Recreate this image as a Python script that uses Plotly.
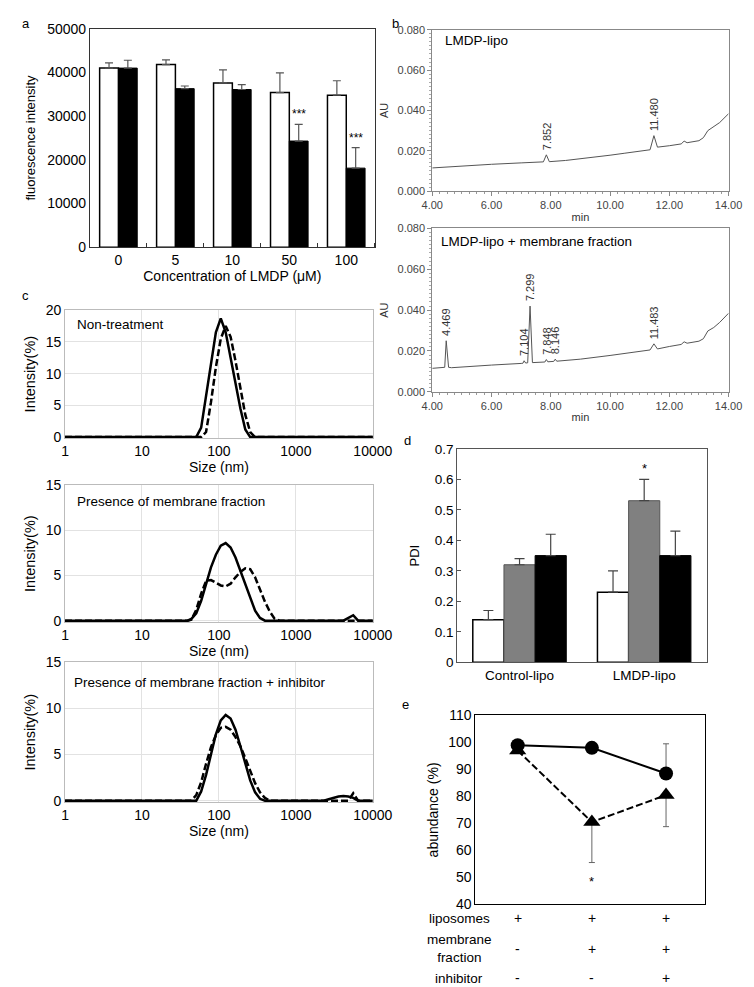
import plotly.graph_objects as go

W, H = 754, 987
FONT = "Liberation Sans, Arial, sans-serif"

# ---------------- data ----------------
# panel a
conc_labels = ["0", "5", "10", "50", "100"]
a_white = [41000, 41800, 37600, 35400, 34800]
a_white_err = [1200, 1100, 3000, 4500, 3300]
a_black = [41000, 36300, 36100, 24300, 18100]
a_black_err = [1800, 600, 1100, 3800, 4700]
a_sig = ["", "", "", "***", "***"]

# panel b (chromatograms)
b1_time = [4.0, 5.0, 6.0, 7.0, 7.75, 7.85, 7.95, 8.5, 9.0, 10.0, 10.5, 11.0, 11.35, 11.48, 11.6,
           12.0, 12.4, 12.5, 12.6, 13.0, 13.15, 13.3, 13.5, 13.7, 14.0]
b1_au = [0.0115, 0.0125, 0.0133, 0.0140, 0.0145, 0.0180, 0.0146, 0.0152, 0.0160, 0.0178, 0.0188,
         0.0197, 0.0205, 0.0275, 0.0218, 0.0225, 0.0234, 0.0248, 0.0240, 0.0250, 0.0265, 0.0300,
         0.0318, 0.0340, 0.0384]
b1_peak_labels = ["7.852", "11.480"]
b1_peak_au = [0.0180, 0.0275]

b2_time = [4.0, 4.35, 4.42, 4.47, 4.55, 4.65, 5.0, 6.0, 7.0, 7.06, 7.1, 7.15, 7.22, 7.3, 7.38, 7.5,
           7.8, 7.85, 7.9, 8.1, 8.15, 8.2, 9.0, 10.0, 11.0, 11.35, 11.48, 11.6, 12.0, 12.4, 12.5,
           12.6, 13.0, 13.15, 13.3, 13.5, 13.7, 14.0]
b2_au = [0.0115, 0.0117, 0.0120, 0.0250, 0.0120, 0.0118, 0.0122, 0.0131, 0.0139, 0.0140, 0.0152,
         0.0141, 0.0142, 0.0420, 0.0143, 0.0144, 0.0146, 0.0158, 0.0147, 0.0149, 0.0160, 0.0150,
         0.0160, 0.0178, 0.0196, 0.0205, 0.0235, 0.0210, 0.0222, 0.0232, 0.0245, 0.0238, 0.0248,
         0.0260, 0.0298, 0.0315, 0.0340, 0.0385]
b2_peak_labels = ["4.469", "7.104", "7.299", "7.848", "8.146", "11.483"]
b2_peak_au = [0.0250, 0.0152, 0.0420, 0.0158, 0.0160, 0.0235]

# panel c (size distributions)
c_ticks = [1, 10, 100, 1000, 10000]
c1_solid_size = [1, 50.75, 58.77, 68.06, 78.82, 91.28, 105.7, 122.4, 141.8, 164.2, 190.1, 220.2, 255.0, 10000]
c1_solid_int = [0, 0, 1.5, 6.5, 11.5, 16.5, 18.7, 16.5, 12.5, 8.5, 4.5, 1.2, 0, 0]
c1_dash_size = [1, 58.77, 68.06, 78.82, 91.28, 105.7, 122.4, 141.8, 164.2, 190.1, 220.2, 255.0, 295.3, 10000]
c1_dash_int = [0, 0, 0.8, 5.5, 11.0, 15.5, 17.5, 15.8, 12.0, 7.5, 3.5, 0.8, 0, 0]

c2_solid_size = [1, 39.0, 43.82, 50.75, 58.77, 68.06, 78.82, 91.28, 105.7, 122.4, 141.8, 164.2, 190.1,
                 220.2, 255.0, 295.3, 342.0, 396.1, 4145, 4801, 5560, 6439, 10000]
c2_solid_int = [0, 0, 0.2, 0.8, 2.2, 4.2, 5.9, 7.3, 8.3, 8.6, 8.1, 7.0, 5.5, 3.9, 2.4, 1.1, 0.3, 0,
                0, 0.3, 0.6, 0, 0]
c2_dash_size = [1, 39.0, 43.82, 50.75, 58.77, 68.06, 78.82, 91.28, 105.7, 122.4, 141.8, 164.2, 190.1,
                220.2, 255.0, 295.3, 342.0, 396.1, 458.7, 531.2, 615.1, 10000]
c2_dash_int = [0, 0, 0.1, 1.2, 3.0, 4.4, 4.5, 4.2, 3.9, 3.8, 4.1, 4.8, 5.4, 5.8, 5.7, 4.8, 3.4, 2.1,
               1.0, 0.2, 0, 0]

c3_solid_size = [1, 50.75, 58.77, 68.06, 78.82, 91.28, 105.7, 122.4, 141.8, 164.2, 190.1, 220.2, 255.0,
                 295.3, 342.0, 396.1, 2305, 2669, 3091, 3580, 4145, 4801, 5560, 6439, 10000]
c3_solid_int = [0, 0, 1.0, 2.8, 5.0, 7.2, 8.7, 9.3, 8.9, 7.7, 5.9, 4.0, 2.2, 0.9, 0.2, 0,
                0, 0.15, 0.3, 0.45, 0.5, 0.45, 0.3, 0, 0]
c3_dash_size = [1, 43.82, 50.75, 58.77, 68.06, 78.82, 91.28, 105.7, 122.4, 141.8, 164.2, 190.1, 220.2,
                255.0, 295.3, 342.0, 396.1, 458.7, 4801, 5560, 6439, 10000]
c3_dash_int = [0, 0, 0.6, 2.0, 4.0, 5.8, 7.1, 7.9, 8.0, 7.7, 6.9, 5.9, 4.6, 3.2, 1.9, 0.9, 0.3, 0,
               0, 0.8, 0, 0]

# panel d
d_cats = ["Control-lipo", "LMDP-lipo"]
d_white = [0.14, 0.23]
d_white_err = [0.03, 0.07]
d_gray = [0.32, 0.53]
d_gray_err = [0.02, 0.07]
d_black = [0.35, 0.35]
d_black_err = [0.07, 0.08]
d_sig = ["", "*"]

# panel e
e_cond = [1, 2, 3]
e_circle = [99, 98, 88.5]
e_circle_err_up = [0, 0, 11]
e_tri = [97, 70.5, 80.5]
e_tri_err_down = [0, 15, 11.7]
e_sig = ["", "*", ""]
e_rows = ["liposomes", "membrane<br>fraction", "inhibitor"]
e_liposomes = ["+", "+", "+"]
e_membrane = ["-", "+", "+"]
e_inhibitor = ["-", "-", "+"]


# ---------------- helpers ----------------
def dx(l, r):
    return [l / W, r / W]


def dy(t, b):
    return [1 - b / H, 1 - t / H]


def px(x):
    return x / W


def py(y):
    return 1 - y / H


fig = go.Figure()
ann = []

# ---------------- panel a ----------------
a_idx = list(range(len(conc_labels)))
fig.add_trace(go.Bar(x=a_idx, y=a_white, width=0.33, offset=-0.33, xaxis="x", yaxis="y",
                     marker=dict(color="white", line=dict(color="black", width=1.5)),
                     error_y=dict(type="data", array=a_white_err, arrayminus=[0] * 5, symmetric=False,
                                  color="#555", thickness=1.2, width=4)))
fig.add_trace(go.Bar(x=a_idx, y=a_black, width=0.33, offset=0.0, xaxis="x", yaxis="y",
                     marker=dict(color="black", line=dict(color="black", width=1.0)),
                     error_y=dict(type="data", array=a_black_err, arrayminus=[0] * 5, symmetric=False,
                                  color="#555", thickness=1.2, width=4)))
for i, s in enumerate(a_sig):
    if s:
        ann.append(dict(x=i + 0.165, y=a_black[i] + a_black_err[i], xref="x", yref="y", text=s,
                        showarrow=False, yanchor="bottom", yshift=1, font=dict(size=12, color="black")))

# ---------------- panel b ----------------
for (t, au, lab, hts, xa, ya) in [(b1_time, b1_au, b1_peak_labels, b1_peak_au, "x2", "y2"),
                                   (b2_time, b2_au, b2_peak_labels, b2_peak_au, "x3", "y3")]:
    fig.add_trace(go.Scatter(x=t, y=au, mode="lines", xaxis=xa, yaxis=ya,
                             line=dict(color="#555", width=1)))
    for l, h in zip(lab, hts):
        ann.append(dict(x=float(l), y=h, xref=xa, yref=ya, text=l, textangle=-90, showarrow=False,
                        xanchor="center", yanchor="bottom", yshift=3,
                        font=dict(size=11, color="#333")))

# ---------------- panel c ----------------
for (ss, si, ds, di, xa, ya) in [(c1_solid_size, c1_solid_int, c1_dash_size, c1_dash_int, "x4", "y4"),
                                  (c2_solid_size, c2_solid_int, c2_dash_size, c2_dash_int, "x5", "y5"),
                                  (c3_solid_size, c3_solid_int, c3_dash_size, c3_dash_int, "x6", "y6")]:
    fig.add_trace(go.Scatter(x=ds, y=di, mode="lines", xaxis=xa, yaxis=ya,
                             line=dict(color="black", width=2.5, dash="7px,3px")))
    fig.add_trace(go.Scatter(x=ss, y=si, mode="lines", xaxis=xa, yaxis=ya,
                             line=dict(color="black", width=2.5)))

# ---------------- panel d ----------------
d_idx = list(range(len(d_cats)))
for vals, errs, col, lcol, lw, off in [(d_white, d_white_err, "white", "black", 1.5, -0.375),
                                       (d_gray, d_gray_err, "#808080", "#555", 1.0, -0.125),
                                       (d_black, d_black_err, "black", "black", 1.0, 0.125)]:
    fig.add_trace(go.Bar(x=d_idx, y=vals, width=0.25, offset=off, xaxis="x7", yaxis="y7",
                         marker=dict(color=col, line=dict(color=lcol, width=lw)),
                         error_y=dict(type="data", array=errs, arrayminus=[0] * 2, symmetric=False,
                                      color="#444", thickness=1.2, width=5)))
for i, s in enumerate(d_sig):
    if s:
        ann.append(dict(x=i, y=d_gray[i] + d_gray_err[i], xref="x7", yref="y7", text=s,
                        showarrow=False, yanchor="bottom", yshift=1, font=dict(size=13, color="black")))

# ---------------- panel e ----------------
fig.add_trace(go.Scatter(x=e_cond, y=e_tri, mode="lines+markers", xaxis="x8", yaxis="y8",
                         line=dict(color="black", width=2, dash="7px,3px"),
                         marker=dict(symbol="triangle-up", size=15, color="black"),
                         error_y=dict(type="data", array=[0, 0, 0], arrayminus=e_tri_err_down,
                                      symmetric=False, color="#666", thickness=1, width=3)))
fig.add_trace(go.Scatter(x=e_cond, y=e_circle, mode="lines+markers", xaxis="x8", yaxis="y8",
                         line=dict(color="black", width=2),
                         marker=dict(symbol="circle", size=14, color="black"),
                         error_y=dict(type="data", array=e_circle_err_up, arrayminus=[0, 0, 0],
                                      symmetric=False, color="#666", thickness=1, width=3)))
for i, s in enumerate(e_sig):
    if s:
        ann.append(dict(x=e_cond[i], y=48.5, xref="x8", yref="y8", text=s, showarrow=False,
                        font=dict(size=13, color="black")))
for row_name, vals, ypix in [(e_rows[0], e_liposomes, 917), (e_rows[1], e_membrane, 948),
                             (e_rows[2], e_inhibitor, 978)]:
    ann.append(dict(x=px(459), y=py(ypix), xref="paper", yref="paper", text=row_name, showarrow=False,
                    xanchor="center", yanchor="middle", font=dict(size=13.5, color="black")))
    for c, v in zip(e_cond, vals):
        ann.append(dict(x=c, y=py(ypix), xref="x8", yref="paper", text=v, showarrow=False,
                        xanchor="center", yanchor="middle", font=dict(size=14, color="black")))

# ---------------- text labels ----------------
for lab, x, y in [("a", 7, 8), ("b", 393, 8), ("c", 7, 284), ("d", 405, 432), ("e", 403, 700)]:
    ann.append(dict(x=px(x), y=py(y), xref="paper", yref="paper", text=lab, showarrow=False,
                    xanchor="center", yanchor="middle", font=dict(size=13, color="black")))
for txt, x, y, size in [("LMDP-lipo", 442, 25, 13.5), ("LMDP-lipo + membrane fraction", 438, 229, 13.5),
                        ("Non-treatment", 58, 314, 13.5), ("Presence of membrane fraction", 58, 493, 13.5),
                        ("Presence of membrane fraction + inhibitor", 55, 677, 13.5)]:
    ann.append(dict(x=px(x), y=py(y), xref="paper", yref="paper", text=txt, showarrow=False,
                    xanchor="left", yanchor="middle", font=dict(size=size, color="black")))

# ---------------- axes ----------------
tickfont = dict(size=14, color="black", family=FONT)
lay = dict(
    width=W, height=H, margin=dict(l=0, r=0, t=0, b=0), showlegend=False,
    paper_bgcolor="white", plot_bgcolor="white", barmode="overlay",
    font=dict(family=FONT, color="black"),
    annotations=ann,
)
# a
lay["xaxis"] = dict(domain=dx(74, 371), anchor="y", range=[-0.5, 4.5], tickvals=a_idx, ticktext=conc_labels,
                    showline=True, linecolor="#333", linewidth=1, mirror=True, ticks="", showgrid=False,
                    zeroline=False, tickfont=tickfont,
                    minor=dict(tick0=0.5, dtick=1, ticks="inside", ticklen=4, tickcolor="#333"),
                    title=dict(text="Concentration of LMDP (μM)", font=dict(size=14), standoff=2))
lay["yaxis"] = dict(domain=dy(13, 235), anchor="x", range=[0, 50000], dtick=10000, tickformat="d",
                    showline=True, linecolor="#333", linewidth=1, mirror=True, ticks="", showgrid=False,
                    zeroline=False, tickfont=tickfont,
                    title=dict(text="fluorescence intensity", font=dict(size=13), standoff=8))
# b
bfont = dict(size=11, color="#444", family=FONT)
for n, (t, b) in [(2, (14, 178)), (3, (216, 382))]:
    lay[f"xaxis{n}"] = dict(domain=dx(431, 740), anchor=f"y{n}", range=[4, 14], dtick=2, tickformat=".2f",
                            showline=True, linecolor="#888", mirror=True, ticks="outside", ticklen=4,
                            tickcolor="#888", showgrid=False, zeroline=False, tickfont=bfont,
                            minor=dict(dtick=0.25, ticks="outside", ticklen=2, tickcolor="#999"),
                            title=dict(text="min", font=dict(size=11, color="#333"), standoff=2))
    lay[f"yaxis{n}"] = dict(domain=dy(t, b), anchor=f"x{n}", range=[0, 0.08], dtick=0.02, tickformat=".3f",
                            showline=True, linecolor="#888", mirror=True, ticks="outside", ticklen=4,
                            tickcolor="#888", showgrid=False, zeroline=False, tickfont=bfont,
                            minor=dict(dtick=0.002, ticks="outside", ticklen=2, tickcolor="#aaa"),
                            title=dict(text="AU", font=dict(size=11, color="#333"), standoff=6))
# c
for n, (t, b), top in [(4, (299, 429), 20), (5, (477, 616), 15), (6, (657, 799), 15)]:
    lay[f"xaxis{n}"] = dict(domain=dx(48, 369), anchor=f"y{n}", type="log", range=[0, 4],
                            tickvals=c_ticks, ticktext=[str(v) for v in c_ticks],
                            showline=True, linecolor="#bbb", mirror=True, ticks="", showgrid=True,
                            gridcolor="#e2e2e2", zeroline=False, tickfont=tickfont,
                            title=dict(text="Size (nm)", font=dict(size=14), standoff=4))
    lay[f"yaxis{n}"] = dict(domain=dy(t, b), anchor=f"x{n}", range=[-0.15, top], dtick=5,
                            showline=True, linecolor="#bbb", mirror=True, ticks="", showgrid=True,
                            gridcolor="#e2e2e2", zeroline=False, tickfont=tickfont,
                            title=dict(text="Intensity(%)", font=dict(size=14.5), standoff=6))
# d
lay["xaxis7"] = dict(domain=dx(457, 717), anchor="y7", range=[-0.5, 1.5], tickvals=d_idx, ticktext=d_cats,
                     showline=True, linecolor="#555", mirror=True, ticks="", showgrid=False, zeroline=False,
                     tickfont=dict(size=13.5, color="black", family=FONT))
lay["yaxis7"] = dict(domain=dy(440, 657), anchor="x7", range=[0, 0.7], dtick=0.1, showline=True,
                     linecolor="#555", mirror=True, ticks="inside", ticklen=4, tickcolor="#555",
                     showgrid=False, zeroline=False, tickfont=dict(size=13.5, color="black", family=FONT),
                     title=dict(text="PDI", font=dict(size=13), standoff=12))
# e
lay["xaxis8"] = dict(domain=dx(476, 715), anchor="y8", range=[0.43, 3.52], showticklabels=False,
                     showline=True, linecolor="black", linewidth=1.2, mirror=True, ticks="", showgrid=False,
                     zeroline=False)
lay["yaxis8"] = dict(domain=dy(711, 903), anchor="x8", range=[40, 110], dtick=10, showline=True,
                     linecolor="black", linewidth=1.2, mirror=True, ticks="", showgrid=False, zeroline=False,
                     tickfont=tickfont, title=dict(text="abundance (%)", font=dict(size=14), standoff=6))

fig.update_layout(**lay)
fig.write_html("out.html")
